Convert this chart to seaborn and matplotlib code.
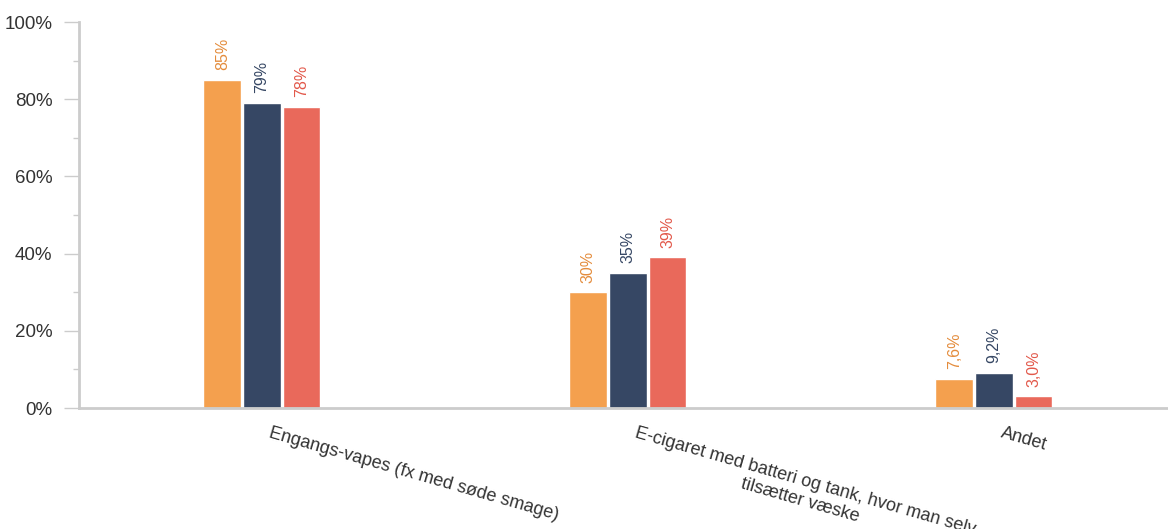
import matplotlib
matplotlib.use("Agg")
import matplotlib.pyplot as plt
import matplotlib.transforms as mtrans
from matplotlib.ticker import MultipleLocator, FuncFormatter
import seaborn as sns
import pandas as pd

categories = ["Engangs-vapes (fx med søde smage)",
              "E-cigaret med batteri og tank, hvor man selv\ntilsætter væske",
              "Andet"]
series_names = ["Serie 1", "Serie 2", "Serie 3"]
series_1 = [85.0, 30.0, 7.6]
series_2 = [79.0, 35.0, 9.2]
series_3 = [78.0, 39.0, 3.0]
y_ticks = [0, 20, 40, 60, 80, 100]

bar_colors = ["#F4A04E", "#364764", "#E9695B"]
label_colors = ["#E48C3C", "#364764", "#E2584A"]

rows = []
for name, vals in zip(series_names, [series_1, series_2, series_3]):
    for c, v in zip(categories, vals):
        rows.append({"Kategori": c, "Serie": name, "Værdi": v})
df = pd.DataFrame(rows)

sns.set_style("white")
plt.rcParams["font.family"] = ["Liberation Sans", "DejaVu Sans"]

fig = plt.figure(figsize=(11.68, 5.29), dpi=100)
ax = fig.add_axes([0.0676, 0.2287, 0.940, 0.7296])

sns.barplot(data=df, x="Kategori", y="Værdi", hue="Serie", order=categories,
            hue_order=series_names, palette=bar_colors, width=0.325, gap=0.05,
            saturation=1, ax=ax, legend=False, errorbar=None)

def fmt(v):
    if v >= 10:
        return f"{v:.0f}%"
    return f"{v:.1f}%".replace(".", ",")

for cont, col in zip(ax.containers, label_colors):
    labels = [fmt(b.get_height()) for b in cont]
    ax.bar_label(cont, labels=labels, rotation=90, color=col, fontsize=11.5,
                 padding=7)

ax.set_ylim(0, 100)
ax.set_xlim(-0.5, 2.5)
ax.set_yticks(y_ticks)
ax.yaxis.set_minor_locator(MultipleLocator(10))
ax.yaxis.set_major_formatter(FuncFormatter(lambda v, p: f"{v:.0f}%"))
ax.tick_params(axis="y", which="major", length=11, width=1, color="#cccccc",
               labelsize=13.5, labelcolor="#333333", pad=8, left=True)
ax.tick_params(axis="y", which="minor", length=4, width=1, color="#cccccc",
               left=True)
ax.tick_params(axis="x", length=0, labelsize=13, labelcolor="#333333", pad=12)
ax.set_xlabel("")
ax.set_ylabel("")
shift = mtrans.ScaledTranslation(10 / 100, 0, fig.dpi_scale_trans)
for lbl in ax.get_xticklabels():
    lbl.set_rotation(-16)
    lbl.set_ha("left")
    lbl.set_va("top")
    lbl.set_rotation_mode("anchor")
    lbl.set_multialignment("center")
    lbl.set_transform(lbl.get_transform() + shift)

for s in ["top", "right"]:
    ax.spines[s].set_visible(False)
for s in ["left", "bottom"]:
    ax.spines[s].set_color("#cccccc")
    ax.spines[s].set_linewidth(2)

fig.savefig("out.png", dpi=100)
